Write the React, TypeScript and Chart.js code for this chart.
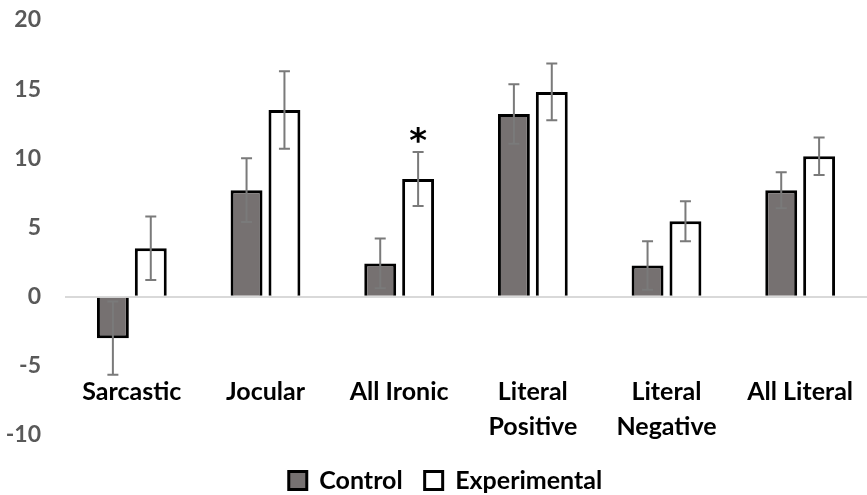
import { useEffect, useRef } from 'react';
import { Chart, registerables } from 'chart.js';

Chart.register(...registerables);

const categories: (string | string[])[] = [
  'Sarcastic',
  'Jocular',
  'All Ironic',
  ['Literal', 'Positive'],
  ['Literal', 'Negative'],
  'All Literal',
];
const controlValues = [-3.0, 7.7, 2.4, 13.2, 2.25, 7.7];
const controlErrors = [2.65, 2.3, 1.8, 2.15, 1.75, 1.3];
const experimentalValues = [3.5, 13.5, 8.5, 14.8, 5.45, 10.15];
const experimentalErrors = [2.3, 2.8, 1.95, 2.05, 1.45, 1.35];
const significance = ['', '', '*', '', '', ''];
const yMin = -10;
const yMax = 20;
const yStep = 5;

const FONT = 'Lato';

const errorBarPlugin = {
  id: 'errorBars',
  afterDatasetsDraw(chart: any) {
    const ctx = chart.ctx;
    const y = chart.scales.y;
    chart.data.datasets.forEach((ds: any, di: number) => {
      const meta = chart.getDatasetMeta(di);
      meta.data.forEach((bar: any, i: number) => {
        const v = ds.data[i];
        const e = ds.errors[i];
        const top = y.getPixelForValue(v + e);
        const bot = y.getPixelForValue(v - e);
        ctx.save();
        ctx.strokeStyle = '#7a7a7a';
        ctx.lineWidth = 2;
        ctx.beginPath();
        ctx.moveTo(bar.x, top);
        ctx.lineTo(bar.x, bot);
        ctx.moveTo(bar.x - 5.5, top);
        ctx.lineTo(bar.x + 5.5, top);
        ctx.moveTo(bar.x - 5.5, bot);
        ctx.lineTo(bar.x + 5.5, bot);
        ctx.stroke();
        ctx.restore();
        if (di === 1 && significance[i]) {
          ctx.save();
          ctx.fillStyle = '#000';
          ctx.font = `bold 34px 'DejaVu Sans'`;
          ctx.textAlign = 'center';
          ctx.textBaseline = 'alphabetic';
          ctx.fillText(significance[i], bar.x, top);
          ctx.restore();
        }
      });
    });
  },
};

const legendShiftPlugin = {
  id: 'legendShift',
  afterLayout(chart: any) {
    if (chart.legend) {
      chart.legend.left += 12;
      chart.legend.right += 12;
    }
  },
};

export default function App() {
  const ref = useRef<HTMLCanvasElement | null>(null);
  useEffect(() => {
    if (!ref.current) return;
    const chart = new Chart(ref.current, {
      type: 'bar',
      data: {
        labels: categories as any,
        datasets: [
          {
            label: 'Control',
            data: controlValues,
            errors: controlErrors,
            backgroundColor: '#767171',
            borderColor: '#000000',
            borderWidth: 3,
            categoryPercentage: 0.567,
            barPercentage: 0.842,
          } as any,
          {
            label: 'Experimental',
            data: experimentalValues,
            errors: experimentalErrors,
            backgroundColor: '#ffffff',
            borderColor: '#000000',
            borderWidth: 3,
            categoryPercentage: 0.567,
            barPercentage: 0.842,
          } as any,
        ],
      },
      options: {
        responsive: false,
        animation: false,
        layout: { padding: { top: 20, right: 0, bottom: -8, left: 0 } },
        plugins: {
          legend: {
            position: 'bottom',
            labels: {
              font: { family: FONT, weight: 'bold', size: 25 },
              color: '#000',
              boxWidth: 18,
              boxHeight: 18,
              padding: 22,
            },
          },
          tooltip: { enabled: false },
        },
        scales: {
          x: {
            grid: { display: false, drawTicks: false },
            border: { display: false },
            ticks: {
              font: { family: FONT, weight: 'bold', size: 25, lineHeight: 1.4 },
              color: '#000',
              mirror: true,
              padding: 26,
              autoSkip: false,
              maxRotation: 0,
            },
            afterFit: (s: any) => {
              s.height = 11;
              s.paddingLeft = 0;
              s.paddingRight = 0;
            },
          },
          y: {
            min: yMin,
            max: yMax,
            grid: {
              drawTicks: true,
              tickLength: 24,
              tickColor: 'rgba(0,0,0,0)',
              lineWidth: 2,
              color: (c: any) => (c.tick && c.tick.value === 0 ? '#d9d9d9' : 'rgba(0,0,0,0)'),
            },
            border: { display: false },
            ticks: {
              stepSize: yStep,
              font: { family: FONT, weight: 'bold', size: 23 },
              color: '#595959',
              padding: 0,
            },
            afterFit: (s: any) => {
              s.width = 65;
            },
          },
        },
      } as any,
      plugins: [errorBarPlugin, legendShiftPlugin],
    });
    return () => chart.destroy();
  }, []);
  return (
    <div style={{ position: 'fixed', left: 0, top: 0, width: 867, height: 495, background: '#fff' }}>
      <canvas ref={ref} width={867} height={495} />
    </div>
  );
}
